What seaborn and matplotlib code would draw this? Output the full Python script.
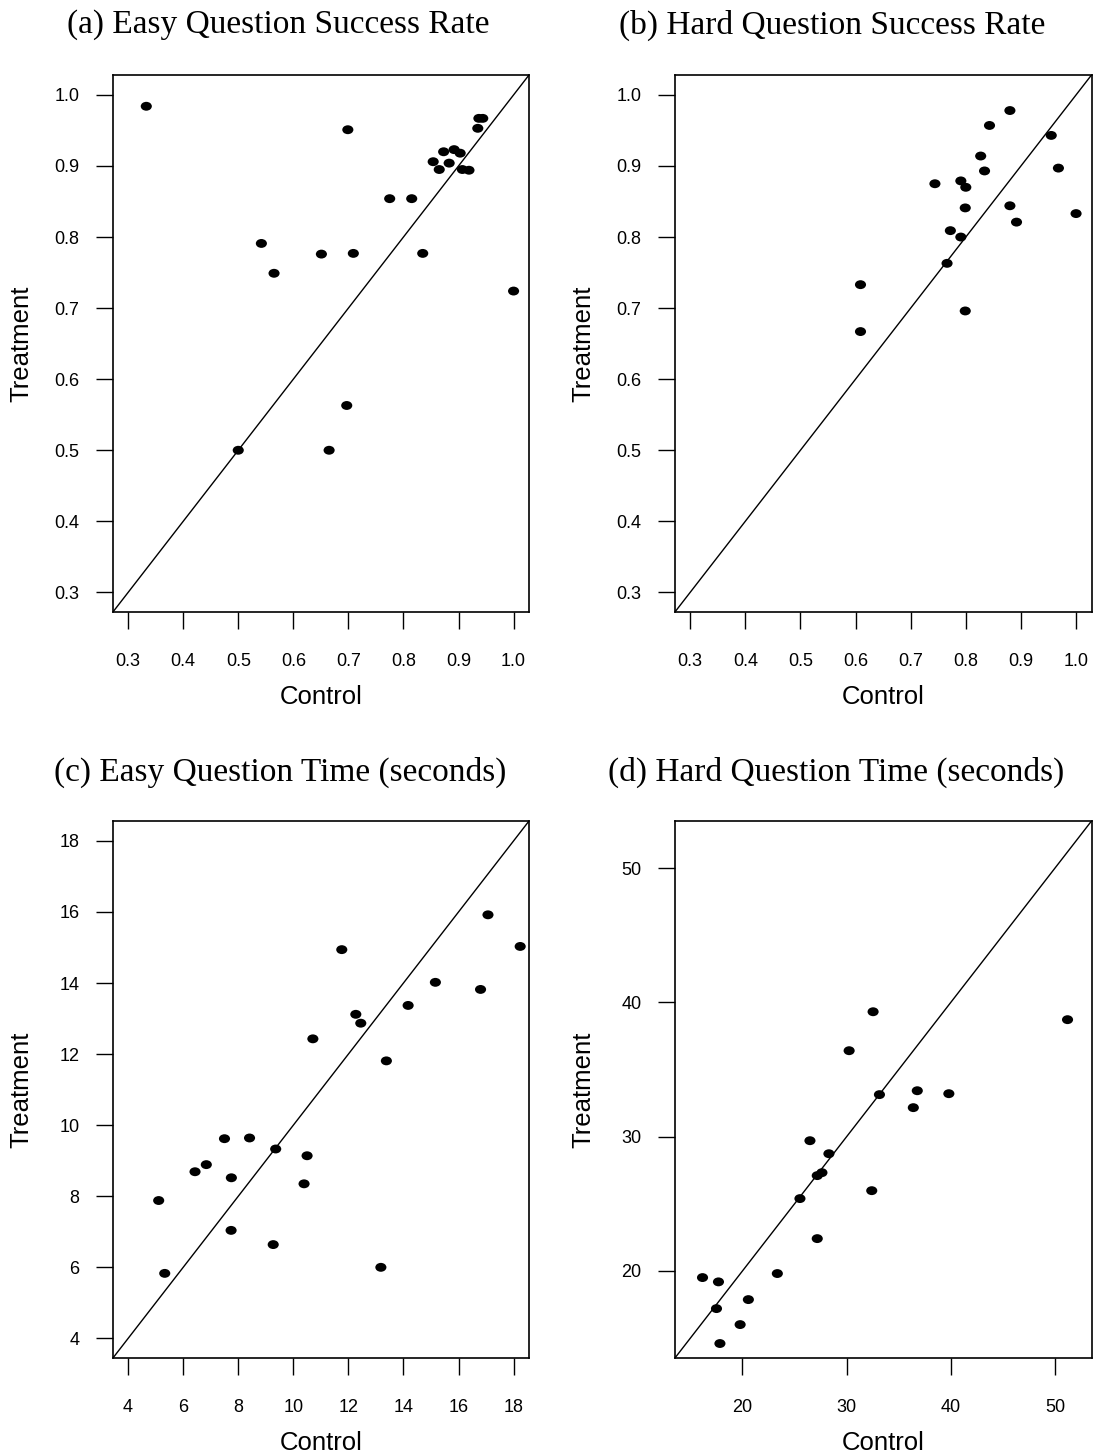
import numpy as np
import pandas as pd
import matplotlib
matplotlib.use("Agg")
import matplotlib.pyplot as plt
from matplotlib.path import Path
from matplotlib.transforms import Affine2D
import seaborn as sns

# ---------------- data ----------------
easy_rate_control = [0.333, 0.699, 0.937, 0.944, 0.935, 0.873, 0.892, 0.903, 0.854, 0.883,
                     0.865, 0.907, 0.919, 0.775, 0.815, 0.542, 0.651, 0.709, 0.835, 0.565,
                     1.000, 0.500, 0.697, 0.665]
easy_rate_treat = [0.984, 0.951, 0.967, 0.967, 0.953, 0.920, 0.923, 0.918, 0.906, 0.904,
                   0.895, 0.895, 0.894, 0.854, 0.854, 0.791, 0.776, 0.777, 0.777, 0.749,
                   0.724, 0.500, 0.563, 0.500]

hard_rate_control = [0.880, 0.843, 0.955, 0.827, 0.834, 0.968, 0.744, 0.791, 0.800, 0.799,
                     0.880, 0.892, 1.000, 0.772, 0.791, 0.766, 0.609, 0.799, 0.609]
hard_rate_treat = [0.978, 0.957, 0.943, 0.914, 0.893, 0.897, 0.875, 0.879, 0.870, 0.841,
                   0.844, 0.821, 0.833, 0.809, 0.800, 0.763, 0.733, 0.696, 0.667]

easy_time_control = [17.07, 18.24, 11.76, 15.16, 16.80, 14.17, 12.27, 12.45, 10.71, 13.38,
                     5.11, 5.33, 6.43, 6.84, 7.50, 8.41, 7.75, 7.74, 9.36, 10.50,
                     10.39, 9.27, 13.18]
easy_time_treat = [15.92, 15.03, 14.94, 14.02, 13.82, 13.37, 13.12, 12.87, 12.43, 11.81,
                   7.88, 5.83, 8.69, 8.89, 9.62, 9.64, 8.52, 7.04, 9.33, 9.14,
                   8.35, 6.64, 6.00]

hard_time_control = [32.54, 51.20, 30.24, 36.78, 33.15, 39.81, 36.40, 26.48, 28.30, 27.18,
                     27.63, 25.52, 32.41, 27.18, 23.35, 16.17, 17.70, 17.51, 20.57, 19.78,
                     17.84]
hard_time_treat = [39.30, 38.71, 36.40, 33.42, 33.13, 33.20, 32.16, 29.70, 28.73, 27.10,
                   27.32, 25.39, 25.98, 22.41, 19.81, 19.51, 19.19, 17.20, 17.87, 16.01,
                   14.60]

titles = ["(a) Easy Question Success Rate", "(b) Hard Question Success Rate",
          "(c) Easy Question Time (seconds)", "(d) Hard Question Time (seconds)"]
rate_ticks = [0.3, 0.4, 0.5, 0.6, 0.7, 0.8, 0.9, 1.0]
easy_time_ticks = [4, 6, 8, 10, 12, 14, 16, 18]
hard_time_ticks = [20, 30, 40, 50]
rate_lims = (0.272, 1.028)
easy_time_lims = (3.44, 18.56)
hard_time_lims = (13.5, 53.5)

# ---------------- style ----------------
sns.set_style("ticks")
plt.rcParams["font.family"] = ["Liberation Sans", "DejaVu Sans"]
plt.rcParams["text.color"] = "black"
plt.rcParams["axes.labelcolor"] = "black"
plt.rcParams["xtick.color"] = "black"
plt.rcParams["ytick.color"] = "black"

W, H = 1094, 1454
fig = plt.figure(figsize=(W / 100, H / 100), dpi=100)

# elliptical dot marker (slightly wider than tall)
ell = Path.unit_circle().transformed(Affine2D().scale(1.0, 0.8))

panels = [
    (easy_rate_control, easy_rate_treat, rate_ticks, rate_lims, "{:.1f}"),
    (hard_rate_control, hard_rate_treat, rate_ticks, rate_lims, "{:.1f}"),
    (easy_time_control, easy_time_treat, easy_time_ticks, easy_time_lims, "{:d}"),
    (hard_time_control, hard_time_treat, hard_time_ticks, hard_time_lims, "{:d}"),
]

# axes boxes in pixels: left, top, right, bottom
boxes = [
    (112.7, 75.0, 529.0, 612.3),
    (674.7, 75.0, 1091.5, 612.3),
    (112.7, 821.0, 529.0, 1358.3),
    (674.7, 821.0, 1091.5, 1358.3),
]
title_pos = [(278, 25), (832, 25), (280, 772), (836, 772)]

for i, (xc, yt, ticks, lims, fmt) in enumerate(panels):
    l, t, r, b = boxes[i]
    ax = fig.add_axes([l / W, 1 - b / H, (r - l) / W, (b - t) / H])
    df = pd.DataFrame({"Control": xc, "Treatment": yt})
    sns.scatterplot(data=df, x="Control", y="Treatment", ax=ax, color="black",
                    marker=ell, s=64, linewidth=0, edgecolor="none", zorder=3)
    ax.axline((0, 0), slope=1, color="black", lw=1.0, zorder=2)
    ax.set_xlim(*lims)
    ax.set_ylim(*lims)
    ax.set_xticks(ticks)
    ax.set_yticks(ticks)
    ax.set_xticklabels([fmt.format(v) for v in ticks])
    ax.set_yticklabels([fmt.format(v) for v in ticks])
    for s in ax.spines.values():
        s.set_visible(True)
        s.set_linewidth(1.2)
        s.set_color("black")
    ax.tick_params(axis="both", direction="out", length=12, width=1.0,
                   labelsize=13, colors="black")
    ax.tick_params(axis="x", pad=17)
    ax.tick_params(axis="y", pad=12)
    ax.set_xlabel("Control", fontsize=18.5)
    ax.set_ylabel("Treatment", fontsize=18.5)
    ax.xaxis.set_label_coords(0.5, -0.157)
    ax.xaxis.label.set_verticalalignment("center")
    ax.yaxis.set_label_coords(-0.220, 0.5)
    ax.yaxis.label.set_verticalalignment("center")
    ax.grid(False)
    tx, ty = title_pos[i]
    fig.text(tx / W, 1 - ty / H, titles[i], ha="center", va="center",
             fontsize=24, family=["Liberation Serif", "DejaVu Serif"])

fig.savefig("out.png", dpi=100, facecolor="white")
